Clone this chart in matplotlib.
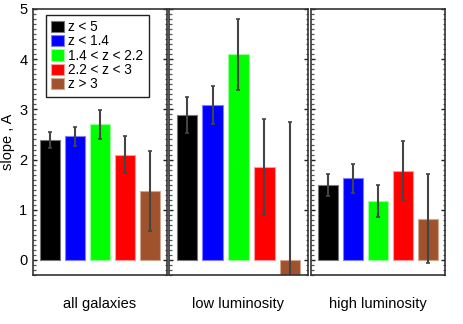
import matplotlib
matplotlib.use("Agg")
import matplotlib.pyplot as plt
from matplotlib.ticker import MultipleLocator

plt.rcParams['font.family'] = ['Liberation Sans', 'DejaVu Sans']

# data
labels = ['z < 5', 'z < 1.4', '1.4 < z < 2.2', '2.2 < z < 3', 'z > 3']
colors = ['#000000', '#0000ff', '#00ff00', '#ff0000', '#a0522d']
edges = ['#777777', '#8080ff', '#99ff99', '#ff9999', '#d0a890']
groups = ['all galaxies', 'low luminosity', 'high luminosity']

all_vals = [2.39, 2.46, 2.70, 2.10, 1.38]
all_errs = [0.16, 0.19, 0.29, 0.36, 0.80]
low_vals = [2.88, 3.09, 4.10, 1.85, -0.50]
low_errs = [0.36, 0.38, 0.71, 0.95, 3.25]
high_vals = [1.49, 1.63, 1.18, 1.78, 0.82]
high_errs = [0.22, 0.29, 0.32, 0.58, 0.89]

vals = [all_vals, low_vals, high_vals]
errs = [all_errs, low_errs, high_errs]
x = [1, 2, 3, 4, 5]

fig = plt.figure(figsize=(4.63, 3.24), dpi=100)
lefts = [33 / 463, 169 / 463, 311 / 463]
widths = [134 / 463, 139 / 463, 134 / 463]
bottom = 49 / 324
height = 266 / 324

for i in range(3):
    ax = fig.add_axes([lefts[i], bottom, widths[i], height])
    bars = ax.bar(x, vals[i], width=0.8, color=colors, edgecolor=edges, linewidth=0.8)
    ax.errorbar(x, vals[i], yerr=errs[i], fmt='none', ecolor='#444444',
                elinewidth=1.5, capsize=1.2, capthick=1.2)
    ax.set_xlim(0.3, 5.7)
    ax.set_ylim(-0.3, 5.0)
    ax.set_xticks([])
    ax.set_yticks([0, 1, 2, 3, 4, 5])
    ax.yaxis.set_minor_locator(MultipleLocator(0.1))
    ax.tick_params(axis='y', which='major', direction='in', left=True, right=True,
                   length=3, width=1, labelsize=10.5, color='#222222', pad=4)
    ax.tick_params(axis='y', which='minor', direction='in', left=True, right=True,
                   length=1.8, width=0.9, color='#555555')
    if i > 0:
        ax.set_yticklabels([])
    for s in ax.spines.values():
        s.set_color('#333333')
        s.set_linewidth(1.2)
    ax.set_xlabel(groups[i], fontsize=10.5, labelpad=16)
    if i == 0:
        ax.set_ylabel('slope , A', fontsize=10.5, labelpad=3)
        ax.legend(bars, labels, loc='upper left', bbox_to_anchor=(0.097, 0.979),
                  borderaxespad=0, fontsize=9.8, fancybox=False, framealpha=1,
                  edgecolor='#222222', handlelength=0.95, handleheight=0.9,
                  handletextpad=0.3, labelspacing=0.02, borderpad=0.4)

fig.savefig('out.png', dpi=100)
